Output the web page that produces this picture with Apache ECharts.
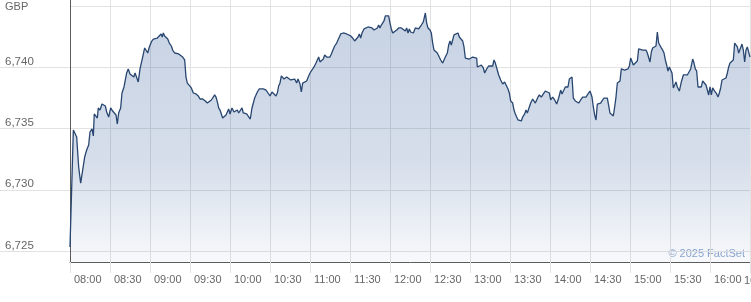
<!DOCTYPE html>
<html>
<head>
<meta charset="utf-8">
<script src="https://cdn.jsdelivr.net/npm/echarts@6/dist/echarts.min.js"></script>
<style>
html,body{margin:0;padding:0;background:#ffffff;}
#chart{width:751px;height:302px;}
</style>
</head>
<body>
<div id="chart"></div>
<script>
// ---------------- data ----------------
const currency = 'GBP';
const credit = '\u00A9 2025 FactSet';
const sessionOpen = '08:00';
const yTicks = [6725, 6730, 6735, 6740, 6745];

// minutes after the 08:00 open
const minutesAfterOpen = [
  0,2.5,4,5,6.5,8,9.5,11,12.5,14,15,16.5,17.5,18.2,19.5,20.5,21.2,22.5,24,25.5,
  26.5,27.5,29,30.5,32,33.5,34.5,35.5,36.5,38,39,40.5,41.5,42.5,43.7,45,46.5,47.8,48.8,50,
  51.2,52.5,53.5,54.5,56,57,58.3,59.5,61,62.5,64,65.5,67,68.3,69.2,70,71,72,73.3,74.5,
  76,77,78.5,80,81.5,83,84.5,86,
  87,88,89.5,91,92.5,94.5,96.2,97.5,98.5,99.5,100.5,101.5,103,104.5,106,107.5,108.5,109.5,110.5,111.5,
  112.5,113.5,114.5,116,117,118,119,120,121.5,123,124,125.5,126.5,127.5,129,130,131.5,132.5,134,135.2,
  136.5,137.5,138.5,139.5,140.5,142,143.5,145,147,148.5,150,151.5,153,154.5,155.5,156.5,157.5,158.5,159.5,160.5,
  161.5,162.5,164,165.5,167,168.5,170,171,172.5,
  173.5,174.5,176,177.5,179,180,181.5,183,184.5,185.5,186.5,187.5,189,190,191,192.5,193.5,195,196,197.5,
  198.5,200,201,202,203,204,205,206,207.5,209,210.5,212,213.5,215,216,217,218,219,220.5,222,
  223.5,225,226.5,228,229.5,230.5,231.5,232.5,233.5,234.5,235.5,236.5,238,239,240,241,242,243.5,245,246.5,
  247.5,248.5,250,251.5,252.5,253.5,254.5,255.5,256.5,257.5,
  259,260.5,261.5,262.5,263.5,265,266.5,267.5,268.5,270,271,272,273,274,275.5,277,278,279.5,280.5,281.5,
  283,284,285,286,287,288,289.5,291,292,293,294.5,295.5,296.5,298,299.5,301,302,303.5,305,305.5,
  307,308.5,310,311,312.5,314,315.5,317,318,319,320.5,321.5,323,324.5,326,327.5,328.5,329.5,330.5,332,
  333,334,335,336,337.5,338.5,339.5,341,
  342,343,344.5,345.5,347,348,349,350,351,352,353.5,355,356.5,358,359.5,360.5,362,363.5,365,366.5,
  368,369,370.5,371.5,372.5,373.5,374.5,375.5,376.5,377.5,379,380.5,381.5,383,384.5,386,387,388.5,390,391.5,
  392.5,393.5,394.5,395.5,397,398,399,400.5,401.5,403,404,405,406.5,407.5,408.5,409.5,410.5,411.5,412.5,413.5,
  414.5,416,417,418.5,419.5,420.5,421.5,422.5,424,425.5,426.5,427.5,
  429.5,431,432,433,434,435,436,437,438.5,439.5,440.5,441.5,442.5,443.5,444.5,445.5,446.5,447.5,448.5,449.5,
  450.5,451.5,452.5,453.5,454.5,455.5,457,458.5,460,461.5,463,464.5,465.5,467,468,469,470,471,472.5,473.5,
  474.5,476,477,478,479,480,481,482,483.5,485,486,487,488,489,490.5,492,493,494,495,496.5,
  497.5,498.5,499.5,500.5,501.5,502.5,504,505,506,507,508,509.5,510
];

// index level (GBP)
const prices = [
  6725.36,6734.89,6734.81,6734.32,6731.88,6730.57,6731.63,6732.69,6733.26,6733.67,6734.73,6734.98,6734.41,6736.20,6736.12,6735.87,6736.69,6736.52,6737.01,6736.85,
  6736.85,6736.36,6735.95,6736.69,6736.44,6736.36,6736.12,6735.38,6736.28,6736.69,6737.91,6738.40,6738.48,6739.54,6739.87,6739.46,6739.38,6739.21,6739.54,6739.62,
  6738.81,6739.87,6740.03,6740.84,6741.58,6741.50,6741.17,6741.66,6742.07,6742.31,6742.39,6742.39,6742.47,6742.72,6742.47,6742.80,6742.56,6742.47,6742.31,6741.98,
  6741.74,6741.41,6741.17,6741.09,6741.09,6740.93,6740.84,6740.60,
  6739.21,6738.72,6738.56,6738.32,6737.91,6737.83,6737.67,6737.42,6737.58,6737.42,6737.58,6737.26,6737.09,6737.18,6737.34,6737.42,6737.75,6737.58,6737.18,6736.69,
  6736.52,6736.61,6735.87,6735.79,6736.12,6736.28,6736.61,6736.20,6736.69,6736.36,6736.52,6736.52,6736.28,6736.12,6736.69,6736.28,6736.12,6736.20,6736.20,6735.79,
  6736.69,6736.77,6737.50,6737.58,6737.99,6738.24,6738.32,6738.24,6738.15,6737.91,6737.67,6737.99,6737.91,6737.67,6737.91,6738.48,6738.72,6739.30,6739.38,6739.05,
  6739.21,6739.21,6739.21,6738.97,6738.97,6739.05,6738.72,6739.05,6738.64,
  6737.99,6738.72,6738.81,6738.89,6739.30,6739.54,6739.70,6740.03,6740.35,6740.60,6740.84,6740.44,6740.35,6740.68,6741.01,6740.84,6740.93,6740.84,6741.09,6741.25,
  6741.74,6741.98,6742.07,6742.47,6742.72,6742.88,6742.80,6742.72,6742.72,6742.80,6742.56,6742.39,6742.15,6742.31,6742.47,6742.72,6742.39,6742.80,6743.13,6743.13,
  6743.29,6743.37,6743.21,6743.04,6742.96,6743.21,6743.45,6743.21,6743.45,6743.61,6743.78,6744.19,6744.27,6744.19,6743.61,6743.13,6742.80,6742.88,6743.04,6743.21,
  6743.29,6743.21,6743.29,6742.96,6743.21,6742.80,6743.13,6742.88,6742.96,6742.80,
  6743.21,6743.29,6743.13,6743.21,6743.45,6743.70,6744.43,6743.61,6743.21,6743.04,6742.80,6741.98,6741.41,6741.25,6741.17,6741.01,6740.60,6740.35,6740.27,6740.84,
  6741.17,6741.82,6742.15,6741.82,6742.23,6742.64,6742.56,6742.80,6742.47,6742.31,6742.15,6741.66,6740.76,6740.76,6740.68,6740.60,6740.84,6740.76,6740.76,6740.03,
  6740.11,6740.19,6739.95,6739.54,6739.87,6740.11,6740.03,6740.11,6740.60,6740.35,6740.19,6739.38,6738.97,6738.64,6738.81,6738.72,6738.24,6737.91,6737.26,6737.09,
  6736.52,6736.20,6736.04,6735.71,6735.79,6735.63,6735.95,6736.20,
  6736.52,6736.28,6736.77,6737.09,6737.42,6737.34,6737.09,6736.93,6737.58,6737.75,6737.58,6737.83,6738.07,6737.91,6737.91,6737.34,6737.58,6737.34,6737.01,6737.50,
  6738.15,6737.83,6737.83,6738.40,6738.24,6738.40,6739.05,6738.97,6739.21,6737.50,6737.26,6737.18,6737.09,6737.34,6737.58,6737.42,6737.58,6737.83,6738.07,6737.58,
  6736.77,6736.12,6735.71,6737.01,6737.01,6737.09,6737.26,6737.50,6737.58,6737.50,6737.42,6736.28,6736.12,6736.04,6736.77,6737.58,6738.72,6738.81,6738.89,6739.87,
  6739.95,6739.78,6739.62,6739.87,6740.11,6740.76,6740.68,6740.19,6740.35,6740.52,6741.50,6741.41,
  6741.41,6741.50,6741.41,6741.17,6741.01,6740.44,6741.25,6741.58,6741.66,6741.74,6742.88,6741.98,6741.90,6741.58,6741.41,6741.17,6740.60,6740.19,6739.70,6740.03,
  6740.19,6739.54,6738.32,6738.56,6738.81,6738.40,6738.07,6738.81,6739.38,6739.46,6739.38,6739.54,6739.87,6740.68,6740.35,6739.87,6739.70,6738.40,6738.40,6738.40,
  6738.89,6738.89,6738.56,6738.40,6737.75,6738.40,6737.75,6738.32,6738.07,6737.83,6737.58,6737.91,6738.32,6738.97,6739.13,6739.13,6739.54,6740.03,6740.35,6740.35,
  6740.60,6741.98,6741.82,6741.66,6741.17,6741.25,6741.90,6741.41,6740.44,6741.41,6741.66,6741.50,6740.84
];

// ---------------- layout (pixels) ----------------
const W = 751, H = 302;
const plotLeft = 70, plotTop = 0, plotBottom = 262;
const topTickY = 6, bottomTickY = 251.4;           // where 6745 / 6725 sit
const minutesPerPx = 0.75;

const yMinTick = yTicks[0], yMaxTick = yTicks[yTicks.length - 1];
const pxPerUnit = (bottomTickY - topTickY) / (yMaxTick - yMinTick);
const yMaxData = yMaxTick + (topTickY - plotTop) / pxPerUnit;
const yMinData = yMinTick - (plotBottom - bottomTickY) / pxPerUnit;
const xMax = (W - plotLeft) * minutesPerPx;

const FONT = "'Liberation Sans', Arial, Helvetica, sans-serif";
const TEXT = '#666666';
const GRID = '#e2e2e2';
const AXIS = '#5c5c5c';

const openParts = sessionOpen.split(':').map(Number);
const openMin = openParts[0] * 60 + openParts[1];
function clock(v) {
  const t = Math.round(openMin + v);
  const h = Math.floor(t / 60), m = t % 60;
  return String(h).padStart(2, '0') + ':' + String(m).padStart(2, '0');
}

const seriesData = minutesAfterOpen.map((m, i) => [m, prices[i]]);
if (minutesAfterOpen.length !== prices.length) console.error('length mismatch', minutesAfterOpen.length, prices.length);

const chart = echarts.init(document.getElementById('chart'), null, {renderer: 'canvas'});
chart.setOption({
  animation: false,
  backgroundColor: '#ffffff',
  title: {
    text: currency, left: 5, top: 1, padding: 0,
    textStyle: {fontSize: 11, fontWeight: 'normal', color: TEXT, fontFamily: FONT}
  },
  grid: [
    {left: plotLeft, right: 0, top: plotTop, height: plotBottom - plotTop, containLabel: false, outerBoundsMode: 'none'},
    {left: plotLeft, right: 0, top: topTickY, height: bottomTickY - topTickY, containLabel: false, outerBoundsMode: 'none'}
  ],
  xAxis: [
    {
      type: 'value', gridIndex: 0, min: 0, max: xMax, interval: 30,
      axisLine: {show: true, lineStyle: {color: AXIS, width: 1}},
      axisTick: {show: true, length: 11, lineStyle: {color: GRID}},
      splitLine: {show: true, lineStyle: {color: GRID, width: 1}},
      axisLabel: {
        show: true, showMaxLabel: false, hideOverlap: false, align: 'left', margin: 12, padding: [0, 0, 0, 4],
        color: TEXT, fontSize: 11, fontFamily: FONT,
        formatter: clock
      }
    },
    {type: 'value', gridIndex: 1, min: 0, max: 1, show: false}
  ],
  yAxis: [
    {
      type: 'value', gridIndex: 0, min: yMinData, max: yMaxData,
      axisLine: {show: true, lineStyle: {color: AXIS, width: 1}},
      axisTick: {show: false}, axisLabel: {show: false}, splitLine: {show: false}
    },
    {
      type: 'value', gridIndex: 1, min: yMinTick, max: yMaxTick, interval: 5,
      axisLine: {show: false},
      axisTick: {show: true, length: plotLeft, lineStyle: {color: GRID}},
      splitLine: {show: true, lineStyle: {color: GRID, width: 1}},
      axisLabel: {
        show: true, showMaxLabel: false, showMinLabel: true,
        align: 'left', verticalAlign: 'bottom', margin: plotLeft - 5,
        color: TEXT, fontSize: 11.5, fontFamily: FONT,
        formatter: v => v.toLocaleString('en-US')
      }
    }
  ],
  series: [{
    type: 'line', xAxisIndex: 0, yAxisIndex: 0,
    data: seriesData, showSymbol: false, symbol: 'none',
    lineStyle: {color: '#284670', width: 1.3},
    areaStyle: {
      origin: 'start',
      color: new echarts.graphic.LinearGradient(0, 0, 0, 1, [
        {offset: 0, color: 'rgba(44,86,151,0.38)'},
        {offset: 0.6, color: 'rgba(44,86,151,0.28)'},
        {offset: 1, color: 'rgba(44,86,151,0.05)'}
      ])
    },
    z: 3
  }],
  graphic: [
    {
      type: 'text', left: 744, top: 275,
      style: {text: clock(510), fill: TEXT, font: '11px ' + FONT}
    },
    {
      type: 'text', right: 6, top: 248,
      style: {text: credit, fill: '#8ea8d2', font: '11px ' + FONT}
    }
  ]
});
</script>
</body>
</html>
